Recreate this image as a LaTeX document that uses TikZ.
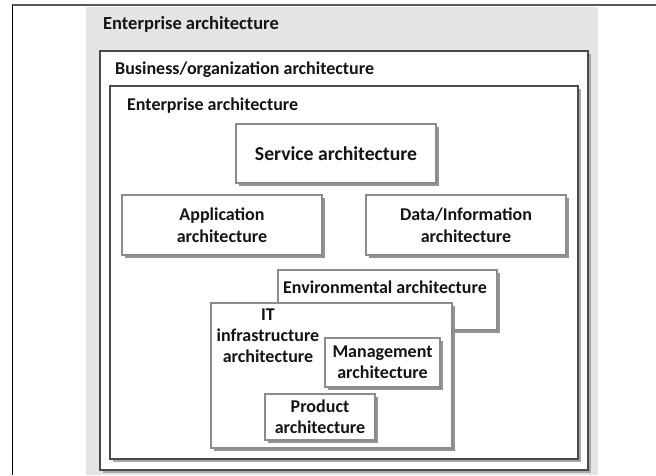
\documentclass[tikz,border=0pt]{standalone}
\usepackage{fontspec}
\setmainfont{Carlito}
\definecolor{panelgray}{HTML}{E4E4E4}
\definecolor{framegray}{HTML}{4A4A4A}
\definecolor{frameshade}{HTML}{A8A8A8}
\definecolor{boxgray}{HTML}{8C8C8C}
\definecolor{shadegray}{HTML}{939393}
\definecolor{inkgray}{HTML}{141414}
\tikzset{
  txt/.style={font=\bfseries\fontsize{18}{22}\selectfont, text=inkgray, inner sep=0pt, align=center},
  heading/.style={txt, anchor=west},
  frame/.style={draw=framegray, line width=2.8pt, fill=white, inner sep=0pt},
  archbox/.style={draw=boxgray, line width=1.3pt, fill=white, txt, inner sep=0pt},
  shade/.style={fill=shadegray}
}
\begin{document}
\begin{tikzpicture}[x=1pt, y=-1pt]
\useasboundingbox (0,0) rectangle (656,475);
% background panel and page rules
\fill[white] (0,0) rectangle (656,475);
\fill[panelgray] (86,7) rectangle (598,475);
\draw[gray!70!black, line width=1.4pt] (12,5) -- (656,5);
\draw[black, line width=1pt] (12,5) -- (12,475);
\node[heading, font=\bfseries\fontsize{18.5}{22}\selectfont] (titleA) at (103,24) {Enterprise architecture};
% nested frames with their light offset shading
\fill[frameshade] (103,54) rectangle (591,473);
\node[frame, minimum width=488pt, minimum height=419pt] (business) at (344,260.5) {};
\node[heading] (titleB) at (115,70) {Business/organization architecture};
\fill[frameshade] (113,89) rectangle (581,462);
\node[frame, minimum width=468pt, minimum height=373pt] (enterprise) at (344,272.5) {};
\node[heading] (titleC) at (127,106) {Enterprise architecture};
% architecture boxes, each with a hard shadow to the lower right
\fill[shade] (239,127) rectangle (439,186);
\node[archbox, minimum width=200pt, minimum height=59pt, font=\bfseries\fontsize{19.7}{22}\selectfont] (service) at (336,153.5) {Service architecture};
\fill[shade] (125,198) rectangle (325,258);
\node[archbox, minimum width=200pt, minimum height=60pt] (application) at (222,225) {Application\\architecture};
\fill[shade] (369,198) rectangle (569,258);
\node[archbox, minimum width=200pt, minimum height=60pt] (data) at (466,225) {Data/Information\\architecture};
\fill[shade] (281,273) rectangle (500,333);
\node[archbox, minimum width=219pt, minimum height=60pt] (environmental) at (387.5,300) {};
\node[txt] (envlabel) at (385,287) {Environmental architecture};
\fill[shade] (214,306) rectangle (455,451);
\node[archbox, minimum width=241pt, minimum height=145pt] (infra) at (331.5,375.5) {};
\node[txt, font=\bfseries\fontsize{18}{21}\selectfont] (infralabel) at (268,336) {IT\\infrastructure\\architecture};
\fill[shade] (328,341) rectangle (443,390);
\node[archbox, minimum width=115pt, minimum height=49pt, font=\bfseries\fontsize{18}{21}\selectfont] (management) at (382.5,362.5) {Management\\architecture};
\fill[shade] (268,397) rectangle (378,443);
\node[archbox, minimum width=110pt, minimum height=46pt, font=\bfseries\fontsize{18}{21}\selectfont] (product) at (320,417) {Product\\architecture};
\end{tikzpicture}
\end{document}
